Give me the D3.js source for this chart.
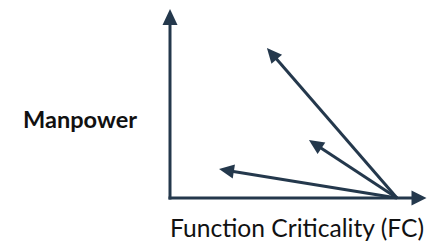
<!DOCTYPE html>
<html>
<head>
<meta charset="utf-8">
<script src="https://cdn.jsdelivr.net/npm/d3@7"></script>
<style>
  html, body { margin: 0; padding: 0; background: #fff; }
  svg { display: block; }
</style>
</head>
<body>
<script>
// axis labels
var xLabel = "Function Criticality (FC)";
var yLabel = "Manpower";

// vectors start at high FC, zero manpower, and point to these tips
var arrowStart = [10, 0];
var arrowTipsFC = [4.27, 6.12, 2.16];
var arrowTipsMP = [7.94, 3.07, 1.53];

// axis extents (in chart units)
var xAxisEnd = 11.3;
var yAxisEnd = 10;

var width = 430, height = 244;
var color = "#24384c";

var svg = d3.select("body").append("svg")
    .attr("width", width)
    .attr("height", height);

var x = d3.scaleLinear().domain([0, 10]).range([170, 397]);
var y = d3.scaleLinear().domain([0, 10]).range([198, 9]);

// draws a shaft plus a filled triangular head
function arrow(x1, y1, x2, y2, headLen, headW) {
    var dx = x2 - x1, dy = y2 - y1;
    var len = Math.sqrt(dx * dx + dy * dy);
    var ux = dx / len, uy = dy / len;
    var bx = x2 - ux * headLen, by = y2 - uy * headLen;
    svg.append("line")
        .attr("x1", x1).attr("y1", y1)
        .attr("x2", bx + ux * 2).attr("y2", by + uy * 2)
        .attr("stroke", color)
        .attr("stroke-width", 3);
    var px = -uy * headW / 2, py = ux * headW / 2;
    svg.append("polygon")
        .attr("points", [
            [x2, y2],
            [bx + px, by + py],
            [bx - px, by - py]
        ].map(function (p) { return p.join(","); }).join(" "))
        .attr("fill", color);
}

// axes: L shape with arrowheads
arrow(x(0), y(0) + 1.5, x(0), y(yAxisEnd), 16, 15);
arrow(x(0) - 1.5, y(0), x(xAxisEnd), y(0), 15, 15);

// vectors
arrowTipsFC.forEach(function (d, i) {
    arrow(x(arrowStart[0]), y(arrowStart[1]), x(d), y(arrowTipsMP[i]), 15, 14);
});

// labels, sized to span the same width as the original
var fontFamily = "Lato, 'Open Sans', sans-serif";

function fitText(sel, targetWidth) {
    sel.style("font-size", "20px");
    var w = sel.node().getComputedTextLength();
    sel.style("font-size", (20 * targetWidth / w) + "px");
}

var yl = svg.append("text")
    .attr("x", 137)
    .attr("y", 128)
    .attr("text-anchor", "end")
    .style("font-family", fontFamily)
    .style("font-weight", "bold")
    .attr("fill", "#111")
    .text(yLabel);
fitText(yl, 114);

var xl = svg.append("text")
    .attr("x", 170)
    .attr("y", 237)
    .style("font-family", fontFamily)
    .attr("fill", "#111")
    .text(xLabel);
fitText(xl, 254);
</script>
</body>
</html>
